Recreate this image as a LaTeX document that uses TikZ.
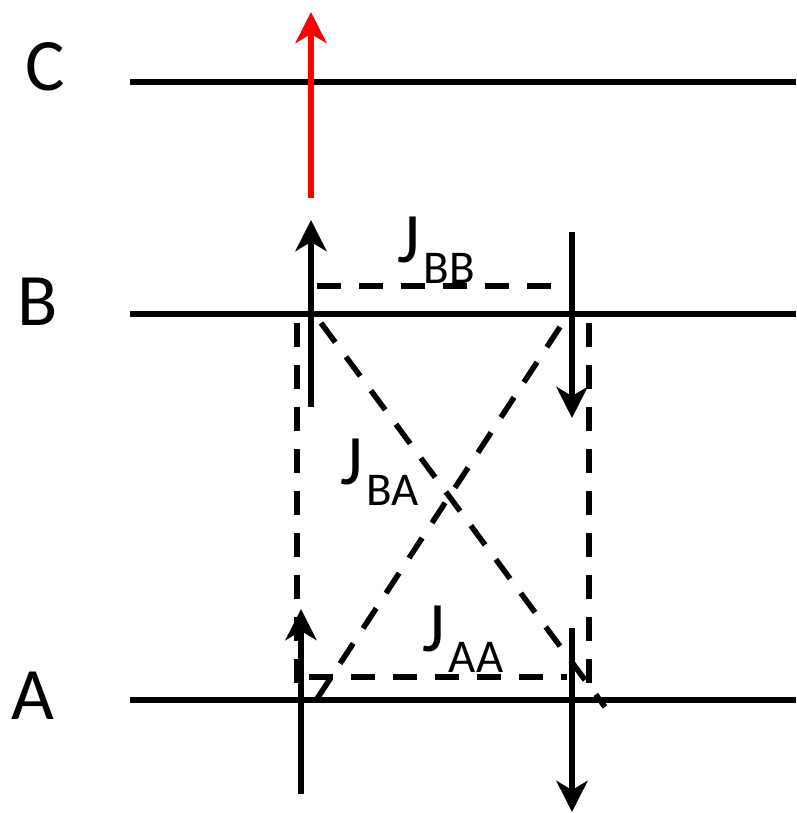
\documentclass[tikz,border=0pt]{standalone}
\usepackage{fontspec}
\setmainfont{Carlito}
\usetikzlibrary{arrows.meta}
\newcommand{\Jsub}[1]{J\kern4pt\raisebox{-21pt}{\fontsize{47}{47}\selectfont #1}}
\tikzset{
  level/.style={line width=6.5pt},
  spin/.style={line width=6pt, -{Stealth[length=31pt,width=31pt,inset=9pt]}},
  redspin/.style={spin, red},
  coupling/.style={line width=5.5pt, dash pattern=on 24pt off 18pt},
  lvlabel/.style={anchor=base west, inner sep=0pt, font=\fontsize{74}{74}\selectfont},
  jlabel/.style={anchor=base west, inner sep=0pt, font=\fontsize{71}{71}\selectfont},
}
\begin{document}
\begin{tikzpicture}[x=1pt,y=-1pt]
\useasboundingbox (0,0) rectangle (796,813);
% level labels
\node[lvlabel] (lC) at (25,91) {C};
\node[lvlabel] (lB) at (17,325) {B};
\node[lvlabel] (lA) at (11,719) {A};
% levels
\coordinate (C0) at (130,82);  \coordinate (C1) at (796,82);
\coordinate (B0) at (130,314); \coordinate (B1) at (796,314);
\coordinate (A0) at (130,700); \coordinate (A1) at (796,700);
\draw[level] (C0) -- (C1);
\draw[level] (B0) -- (B1);
\draw[level] (A0) -- (A1);
% couplings
\coordinate (bb0) at (317,286); \coordinate (bb1) at (556,286);
\coordinate (aa0) at (309,677); \coordinate (aa1) at (567,677);
\coordinate (lv0) at (297,323); \coordinate (lv1) at (297,698);
\coordinate (rv0) at (589,323); \coordinate (rv1) at (589,690);
\coordinate (d10) at (321,323); \coordinate (d11) at (605,707);
\coordinate (d20) at (560,327); \coordinate (d21) at (311,708);
\draw[coupling] (bb0) -- (bb1);
\draw[coupling] (aa0) -- (aa1);
\draw[coupling] (lv0) -- (lv1);
\draw[coupling] (rv0) -- (rv1);
\draw[coupling] (d10) -- (d11);
\draw[coupling] (d20) -- (d21);
% spins
\coordinate (r0) at (311,198); \coordinate (r1) at (311,12);
\coordinate (bu0) at (311,407); \coordinate (bu1) at (311,220);
\coordinate (bd0) at (572,232); \coordinate (bd1) at (572,418);
\coordinate (au0) at (301,794); \coordinate (au1) at (301,609);
\coordinate (ad0) at (572,628); \coordinate (ad1) at (572,812);
\draw[redspin] (r0) -- (r1);
\draw[spin] (bu0) -- (bu1);
\draw[spin] (bd0) -- (bd1);
\draw[spin] (au0) -- (au1);
\draw[spin] (ad0) -- (ad1);
% coupling labels
\node[jlabel] (jbb) at (397,262) {\Jsub{BB}};
\node[jlabel] (jba) at (340,484) {\Jsub{BA}};
\node[jlabel] (jaa) at (422,651) {\Jsub{AA}};
\end{tikzpicture}
\end{document}
